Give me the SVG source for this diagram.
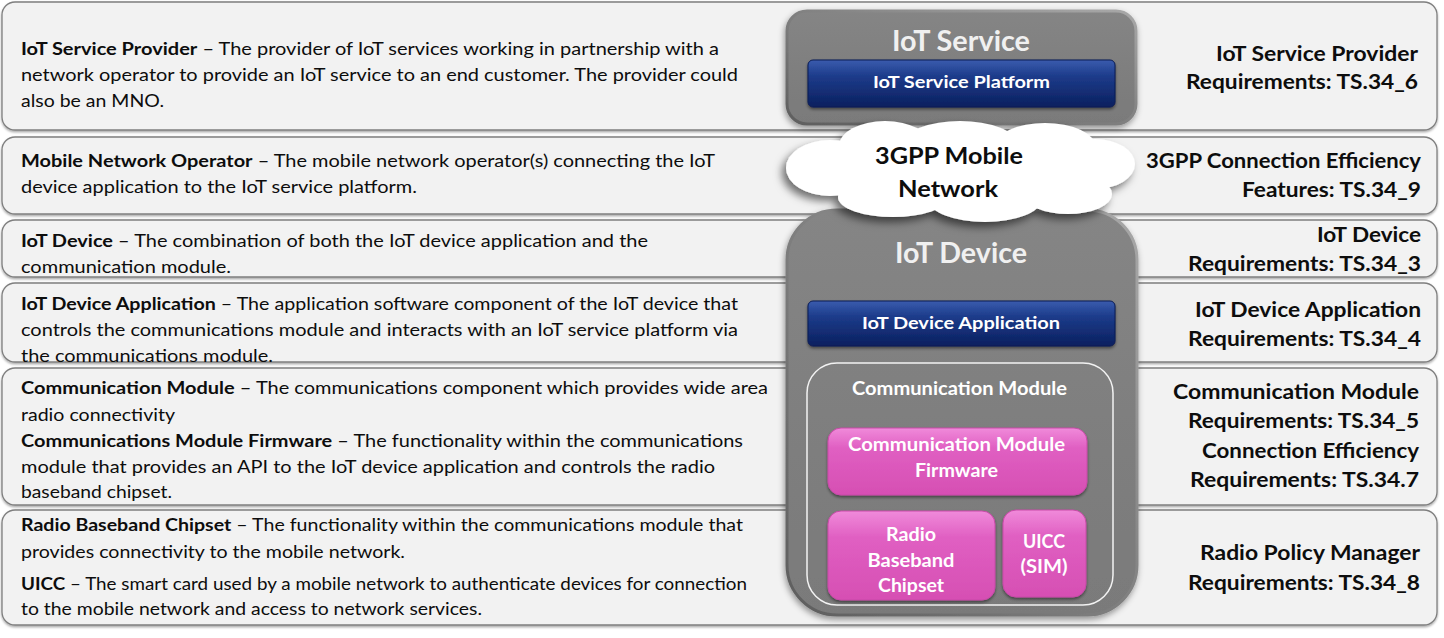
<svg xmlns="http://www.w3.org/2000/svg" width="1444" height="638" viewBox="0 0 1444 638">
<defs>
<style>
.row{fill:#f2f2f2;stroke:#7f7f7f;stroke-width:1.3;filter:url(#sh)}
.lt{font-family:Lato,"Liberation Sans",sans-serif;font-size:16.5px;fill:#0d0d0d}
.b{font-weight:700}
.rt{font-family:Lato,"Liberation Sans",sans-serif;font-size:20.5px;font-weight:700;fill:#0d0d0d}
.gbox{fill:url(#gGray);stroke:url(#gGrayEdge);stroke-width:3;filter:url(#sh2)}
.blue{fill:url(#gBlue);stroke:#0a1d55;stroke-width:1;filter:url(#sh3)}
.pink{fill:url(#gPink);stroke:#c94aa8;stroke-width:1;filter:url(#sh3)}
.ct{font-family:Lato,"Liberation Sans",sans-serif;font-weight:700;text-anchor:middle;fill:#ffffff}
.title{font-size:28px;fill:#f0f0f0}
.bar{font-size:17.5px}
.pt{font-size:19px}
.cloudt{font-family:Lato,"Liberation Sans",sans-serif;font-weight:700;font-size:23px;fill:#0d0d0d;text-anchor:middle}
</style>
<filter id="sh" x="-5%" y="-20%" width="110%" height="140%">
<feDropShadow dx="0" dy="1.5" stdDeviation="1.2" flood-color="#000" flood-opacity="0.35"/>
</filter>
<filter id="sh2" x="-10%" y="-10%" width="120%" height="120%">
<feDropShadow dx="-1" dy="3" stdDeviation="3" flood-color="#000" flood-opacity="0.4"/>
</filter>
<filter id="sh3" x="-10%" y="-20%" width="120%" height="140%">
<feDropShadow dx="0" dy="2" stdDeviation="1.5" flood-color="#000" flood-opacity="0.45"/>
</filter>
<filter id="shc" x="-10%" y="-20%" width="120%" height="150%">
<feDropShadow dx="-4" dy="5" stdDeviation="4" flood-color="#000" flood-opacity="0.55"/>
</filter>
<linearGradient id="gGray" x1="0" y1="0" x2="0" y2="1">
<stop offset="0" stop-color="#858585"/>
<stop offset="0.5" stop-color="#7f7f7f"/>
<stop offset="1" stop-color="#7a7a7a"/>
</linearGradient>
<linearGradient id="gGrayEdge" x1="1" y1="0" x2="0" y2="1">
<stop offset="0" stop-color="#a8a8a8"/>
<stop offset="0.5" stop-color="#808080"/>
<stop offset="1" stop-color="#5e5e5e"/>
</linearGradient>
<linearGradient id="gBlue" x1="0" y1="0" x2="0" y2="1">
<stop offset="0" stop-color="#3a5cae"/>
<stop offset="0.35" stop-color="#1c3b8a"/>
<stop offset="1" stop-color="#0b205f"/>
</linearGradient>
<linearGradient id="gPink" x1="0" y1="0" x2="0" y2="1">
<stop offset="0" stop-color="#f08ada"/>
<stop offset="0.3" stop-color="#e05fc2"/>
<stop offset="1" stop-color="#d64fb3"/>
</linearGradient>
</defs>

<rect width="1444" height="638" fill="#ffffff"/>

<g id="rows">
<g id="row-service-provider">
<rect class="row" x="2" y="2" width="1435" height="128" rx="13"/>
<text class="lt" x="21" y="55" textLength="698" lengthAdjust="spacingAndGlyphs"><tspan class="b">IoT Service Provider</tspan> – The provider of IoT services working in partnership with a</text>
<text class="lt" x="21" y="81" textLength="717" lengthAdjust="spacingAndGlyphs">network operator to provide an IoT service to an end customer. The provider could</text>
<text class="lt" x="21" y="107" textLength="143" lengthAdjust="spacingAndGlyphs">also be an MNO.</text>
<text class="rt" x="1216" y="60.5" textLength="202" lengthAdjust="spacingAndGlyphs">IoT Service Provider</text>
<text class="rt" x="1186" y="89" textLength="232" lengthAdjust="spacingAndGlyphs">Requirements: TS.34_6</text>
</g>
<g id="row-mno">
<rect class="row" x="2" y="137" width="1435" height="77" rx="13"/>
<text class="lt" x="21" y="167" textLength="694" lengthAdjust="spacingAndGlyphs"><tspan class="b">Mobile Network Operator</tspan> – The mobile network operator(s) connecting the IoT</text>
<text class="lt" x="21" y="193" textLength="396" lengthAdjust="spacingAndGlyphs">device application to the IoT service platform.</text>
<text class="rt" x="1146" y="168" textLength="275" lengthAdjust="spacingAndGlyphs">3GPP Connection Efficiency</text>
<text class="rt" x="1242" y="197" textLength="179" lengthAdjust="spacingAndGlyphs">Features: TS.34_9</text>
</g>
<g id="row-device">
<rect class="row" x="2" y="220" width="1435" height="57" rx="13"/>
<text class="lt" x="21" y="247" textLength="627" lengthAdjust="spacingAndGlyphs"><tspan class="b">IoT Device</tspan> – The combination of both the IoT device application and the</text>
<text class="lt" x="21" y="273" textLength="210" lengthAdjust="spacingAndGlyphs">communication module.</text>
<text class="rt" x="1317" y="242" textLength="104" lengthAdjust="spacingAndGlyphs">IoT Device</text>
<text class="rt" x="1188" y="271" textLength="233" lengthAdjust="spacingAndGlyphs">Requirements: TS.34_3</text>
</g>
<g id="row-device-app">
<rect class="row" x="2" y="283" width="1435" height="79" rx="13"/>
<text class="lt" x="21" y="310" textLength="717" lengthAdjust="spacingAndGlyphs"><tspan class="b">IoT Device Application</tspan> – The application software component of the IoT device that</text>
<text class="lt" x="21" y="336" textLength="717" lengthAdjust="spacingAndGlyphs">controls the communications module and interacts with an IoT service platform via</text>
<text class="lt" x="21" y="362" textLength="252" lengthAdjust="spacingAndGlyphs">the communications module.</text>
<text class="rt" x="1195" y="317" textLength="226" lengthAdjust="spacingAndGlyphs">IoT Device Application</text>
<text class="rt" x="1188" y="346" textLength="233" lengthAdjust="spacingAndGlyphs">Requirements: TS.34_4</text>
</g>
<g id="row-comm-module">
<rect class="row" x="2" y="368" width="1435" height="137" rx="13"/>
<text class="lt" x="21" y="394" textLength="747" lengthAdjust="spacingAndGlyphs"><tspan class="b">Communication Module</tspan> – The communications component which provides wide area</text>
<text class="lt" x="21" y="420.5" textLength="154" lengthAdjust="spacingAndGlyphs">radio connectivity</text>
<text class="lt" x="21" y="447" textLength="722" lengthAdjust="spacingAndGlyphs"><tspan class="b">Communications Module Firmware</tspan> – The functionality within the communications</text>
<text class="lt" x="21" y="473" textLength="694" lengthAdjust="spacingAndGlyphs">module that provides an API to the IoT device application and controls the radio</text>
<text class="lt" x="21" y="498" textLength="151" lengthAdjust="spacingAndGlyphs">baseband chipset.</text>
<text class="rt" x="1173" y="399" textLength="246" lengthAdjust="spacingAndGlyphs">Communication Module</text>
<text class="rt" x="1188" y="428" textLength="231" lengthAdjust="spacingAndGlyphs">Requirements: TS.34_5</text>
<text class="rt" x="1202" y="458" textLength="217" lengthAdjust="spacingAndGlyphs">Connection Efficiency</text>
<text class="rt" x="1190" y="487" textLength="229" lengthAdjust="spacingAndGlyphs">Requirements: TS.34.7</text>
</g>
<g id="row-radio">
<rect class="row" x="2" y="510" width="1435" height="115" rx="13"/>
<text class="lt" x="21" y="531" textLength="722" lengthAdjust="spacingAndGlyphs"><tspan class="b">Radio Baseband Chipset</tspan> – The functionality within the communications module that</text>
<text class="lt" x="21" y="558" textLength="384" lengthAdjust="spacingAndGlyphs">provides connectivity to the mobile network.</text>
<text class="lt" x="21" y="590" textLength="726" lengthAdjust="spacingAndGlyphs"><tspan class="b">UICC</tspan> – The smart card used by a mobile network to authenticate devices for connection</text>
<text class="lt" x="21" y="615" textLength="461" lengthAdjust="spacingAndGlyphs">to the mobile network and access to network services.</text>
<text class="rt" x="1200" y="560" textLength="220" lengthAdjust="spacingAndGlyphs">Radio Policy Manager</text>
<text class="rt" x="1188" y="590" textLength="232" lengthAdjust="spacingAndGlyphs">Requirements: TS.34_8</text>
</g>
</g>

<g id="iot-service">
<rect class="gbox" x="787" y="11" width="349" height="113" rx="20"/>
<text class="ct title" x="961" y="51" textLength="138" lengthAdjust="spacingAndGlyphs">IoT Service</text>
</g>
<g id="iot-service-platform">
<rect class="blue" x="808" y="60" width="307" height="47" rx="5"/>
<text class="ct bar" x="961.5" y="87.5" textLength="177" lengthAdjust="spacingAndGlyphs">IoT Service Platform</text>
</g>

<g id="iot-device">
<rect class="gbox" x="787" y="210" width="350" height="405" rx="50"/>
<text class="ct title" x="961" y="263" textLength="132" lengthAdjust="spacingAndGlyphs">IoT Device</text>
</g>
<g id="iot-device-application">
<rect class="blue" x="808" y="301" width="307" height="45" rx="5"/>
<text class="ct bar" x="961" y="328.5" textLength="198" lengthAdjust="spacingAndGlyphs">IoT Device Application</text>
</g>
<g id="communication-module">
<rect x="807" y="363" width="306" height="242" rx="30" fill="none" stroke="#f2f2f2" stroke-width="1.5"/>
<text class="ct" x="959.5" y="395" font-size="18.5" fill="#f2f2f2" textLength="215" lengthAdjust="spacingAndGlyphs">Communication Module</text>
</g>
<g id="firmware">
<rect class="pink" x="828" y="428" width="259" height="67" rx="13"/>
<text class="ct pt" x="956.5" y="451" textLength="217" lengthAdjust="spacingAndGlyphs">Communication Module</text>
<text class="ct pt" x="956.5" y="477" textLength="83" lengthAdjust="spacingAndGlyphs">Firmware</text>
</g>
<g id="radio-baseband">
<rect class="pink" x="828" y="511" width="167" height="89" rx="13"/>
<text class="ct pt" x="911" y="541" textLength="50" lengthAdjust="spacingAndGlyphs">Radio</text>
<text class="ct pt" x="911" y="567" textLength="87" lengthAdjust="spacingAndGlyphs">Baseband</text>
<text class="ct pt" x="911" y="592" textLength="66" lengthAdjust="spacingAndGlyphs">Chipset</text>
</g>
<g id="uicc">
<rect class="pink" x="1003" y="510" width="83" height="87" rx="13"/>
<text class="ct pt" x="1044" y="548" textLength="42" lengthAdjust="spacingAndGlyphs">UICC</text>
<text class="ct pt" x="1044" y="573" textLength="47" lengthAdjust="spacingAndGlyphs">(SIM)</text>
</g>

<g id="mobile-network">
<g fill="#ffffff" filter="url(#shc)">
<ellipse cx="830" cy="168" rx="44" ry="28"/>
<ellipse cx="885" cy="146" rx="46" ry="25"/>
<ellipse cx="960" cy="143" rx="56" ry="22"/>
<ellipse cx="1045" cy="146" rx="50" ry="23"/>
<ellipse cx="1095" cy="164" rx="40" ry="25"/>
<ellipse cx="1068" cy="194" rx="44" ry="20"/>
<ellipse cx="985" cy="200" rx="56" ry="22"/>
<ellipse cx="893" cy="197" rx="55" ry="20"/>
<ellipse cx="960" cy="172" rx="140" ry="36"/>
</g>
<text class="cloudt" x="949" y="163.5" textLength="148" lengthAdjust="spacingAndGlyphs">3GPP Mobile</text>
<text class="cloudt" x="948" y="197" textLength="100" lengthAdjust="spacingAndGlyphs">Network</text>
</g>

<g id="connectors"></g>
</svg>
